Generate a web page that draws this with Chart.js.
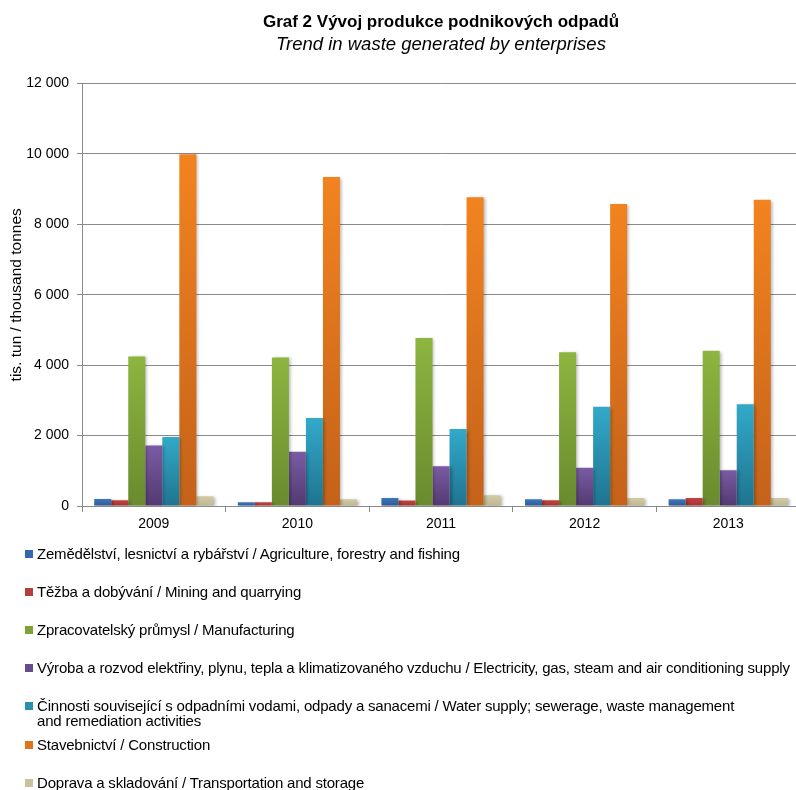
<!DOCTYPE html>
<html>
<head>
<meta charset="utf-8">
<script src="https://cdn.jsdelivr.net/npm/chart.js@4.4.1/dist/chart.umd.min.js"></script>
<style>
  html, body { margin: 0; padding: 0; background: #fff; overflow: hidden; }
  #wrap { position: absolute; left: 0; top: 0; width: 800px; height: 540px; }
  #legend { position: absolute; left: 0; top: 0; width: 800px; height: 790px; pointer-events: none;
            font-family: 'Liberation Sans', Arial, sans-serif; font-size: 15px; color: #000; }
  .li { position: absolute; left: 25px; display: flex; align-items: flex-start; }
  .sw { width: 8px; height: 8px; margin-top: 4px; margin-right: 4px; flex: none; }
  .tx { white-space: pre-line; line-height: 15px; letter-spacing: -0.2px; }
</style>
</head>
<body>
<div id="wrap"><canvas id="c"></canvas></div>
<div id="legend"></div>
<script>
const years = ['2009', '2010', '2011', '2012', '2013'];
const seriesNames = [
  'Zemědělství, lesnictví a rybářství / Agriculture, forestry and fishing',
  'Těžba a dobývání / Mining and quarrying',
  'Zpracovatelský průmysl / Manufacturing',
  'Výroba a rozvod elektřiny, plynu, tepla a klimatizovaného vzduchu / Electricity, gas, steam and air conditioning supply',
  'Činnosti související s odpadními vodami, odpady a sanacemi / Water supply; sewerage, waste management\nand remediation activities',
  'Stavebnictví / Construction',
  'Doprava a skladování / Transportation and storage'
];
const agriculture   = [200, 105, 228, 190, 190];
const mining        = [162, 105, 153, 162, 228];
const manufacturing = [4250, 4220, 4770, 4370, 4410];
const energy        = [1720, 1540, 1130, 1090, 1015];
const water         = [1960, 2500, 2190, 2820, 2890];
const construction  = [9990, 9350, 8770, 8580, 8700];
const transport     = [276, 190, 304, 228, 228];
const yTickValues   = [0, 2000, 4000, 6000, 8000, 10000, 12000];

const seriesValues = [agriculture, mining, manufacturing, energy, water, construction, transport];
const topColors    = ['#3d77bd', '#c4423f', '#8db53f', '#7b5ba4', '#33a9c9', '#f2831f', '#d2cba6'];
const bottomColors = ['#2d5a93', '#a03431', '#6a8a2e', '#523a70', '#1f7490', '#c4621a', '#bdb68e'];
const swatchColors = ['#3569ad', '#b53d3a', '#7ea236', '#674b8c', '#2a91ad', '#e0741d', '#c9c29c'];

function barFill(i) {
  return function(ctx) {
    const chart = ctx.chart;
    const ys = chart.scales && chart.scales.y;
    if (!chart.chartArea || !ys || ctx.raw === undefined) return swatchColors[i];
    const y0 = ys.getPixelForValue(0);
    const y1 = ys.getPixelForValue(ctx.raw);
    if (!isFinite(y0) || !isFinite(y1) || Math.abs(y0 - y1) < 1) return swatchColors[i];
    const g = chart.ctx.createLinearGradient(0, y1, 0, y0);
    g.addColorStop(0, topColors[i]);
    g.addColorStop(1, bottomColors[i]);
    return g;
  };
}

const fontFam = "'Liberation Sans', Arial, sans-serif";
const gridCol = '#8a8a8a';

const shadowPlugin = {
  id: 'barShadow',
  beforeDatasetsDraw(chart) {
    const c = chart.ctx;
    c.save();
    c.shadowColor = 'rgba(0,0,0,0.28)';
    c.shadowBlur = 3;
    c.shadowOffsetX = 2;
    c.shadowOffsetY = 1;
  },
  afterDatasetsDraw(chart) { chart.ctx.restore(); }
};

const chart = new Chart(document.getElementById('c'), {
  type: 'bar',
  data: {
    labels: years,
    datasets: seriesNames.map((name, i) => ({
      label: name,
      data: seriesValues[i],
      backgroundColor: barFill(i),
      borderWidth: 0,
      categoryPercentage: 0.83,
      barPercentage: 1.0
    }))
  },
  options: {
    responsive: true,
    maintainAspectRatio: false,
    animation: false,
    devicePixelRatio: 1,
    layout: { padding: { left: 0, right: 0, top: 0, bottom: 0 } },
    plugins: {
      legend: { display: false },
      tooltip: { enabled: false },
      title: {
        display: true,
        fullSize: false,
        text: 'Graf 2 Vývoj produkce podnikových odpadů',
        color: '#000',
        font: { family: fontFam, size: 17, weight: 'bold', lineHeight: 1.2 },
        padding: { top: 12.5, bottom: 0.5 }
      },
      subtitle: {
        display: true,
        fullSize: false,
        text: 'Trend in waste generated by enterprises',
        color: '#000',
        font: { family: fontFam, size: 18.5, style: 'italic', lineHeight: 1.2 },
        padding: { top: 0, bottom: 28 }
      }
    },
    scales: {
      x: {
        grid: { offset: true, drawOnChartArea: false, drawTicks: true, tickLength: 6, color: gridCol },
        border: { color: gridCol, width: 1 },
        ticks: { color: '#000', font: { family: fontFam, size: 14 }, padding: 4 },
        afterFit(s) { s.height = 34; }
      },
      y: {
        min: 0,
        max: 12000,
        afterBuildTicks(s) { s.ticks = yTickValues.map(v => ({ value: v })); },
        ticks: {
          color: '#000',
          font: { family: fontFam, size: 14 },
          padding: 8,
          callback: v => String(v).replace(/\B(?=(\d{3})+(?!\d))/g, ' ')
        },
        grid: { color: gridCol, tickLength: 5, lineWidth: 1 },
        border: { color: gridCol, width: 1 },
        title: {
          display: true,
          text: 'tis. tun / thousand tonnes',
          color: '#000',
          font: { family: fontFam, size: 15.5 },
          padding: { top: 7, bottom: 0 }
        },
        afterFit(s) { s.width = 82; }
      }
    }
  },
  plugins: [shadowPlugin]
});

// HTML legend built from the chart's datasets
const legendEl = document.getElementById('legend');
chart.data.datasets.forEach((ds, i) => {
  const item = document.createElement('div');
  item.className = 'li';
  item.style.top = (545.5 + i * 38.2) + 'px';
  const sw = document.createElement('span');
  sw.className = 'sw';
  sw.style.background = swatchColors[i];
  const tx = document.createElement('span');
  tx.className = 'tx';
  tx.textContent = ds.label;
  item.appendChild(sw);
  item.appendChild(tx);
  legendEl.appendChild(item);
});
</script>
</body>
</html>
